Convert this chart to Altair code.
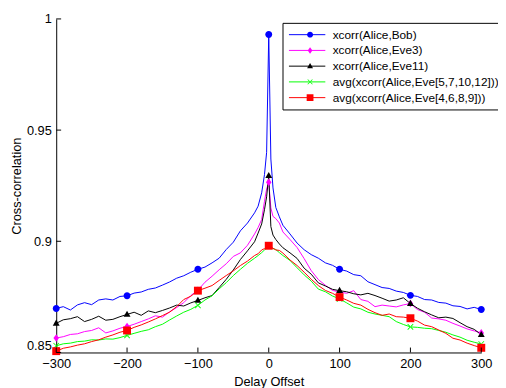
import altair as alt
import pandas as pd

series_names = [
    "xcorr(Alice,Bob)",
    "xcorr(Alice,Eve3)",
    "xcorr(Alice,Eve11)",
    "avg(xcorr(Alice,Eve[5,7,10,12]))",
    "avg(xcorr(Alice,Eve[4,6,8,9]))",
]
series_colors = ["#0000ff", "#ff00ff", "#000000", "#00ff00", "#ff0000"]

delay = [-300, -290, -280, -270, -260, -250, -240, -230, -220, -210, -200,
         -190, -180, -170, -160, -150, -140, -130, -120, -110, -100,
         -90, -80, -70, -60, -50, -40, -30, -20, -15, -10, -6, -3, 0,
         3, 6, 10, 15, 20, 30, 40, 50, 60, 70, 80, 90, 100,
         110, 120, 130, 140, 150, 160, 170, 180, 190, 200,
         210, 220, 230, 240, 250, 260, 270, 280, 290, 300]

bob = [0.8698, 0.8706, 0.8691, 0.8714, 0.8724, 0.8715, 0.8736, 0.8741, 0.8736, 0.8752, 0.8755,
       0.8767, 0.8772, 0.8784, 0.8790, 0.8803, 0.8817, 0.8834, 0.8845, 0.8861, 0.8874,
       0.8884, 0.8903, 0.8924, 0.8963, 0.8996, 0.9047, 0.9082, 0.9128, 0.9158, 0.9218, 0.9300, 0.9400, 0.9930,
       0.9370, 0.9240, 0.9152, 0.9110, 0.9072, 0.9033, 0.8992, 0.8962, 0.8940, 0.8924, 0.8903, 0.8892, 0.8874,
       0.8866, 0.8850, 0.8845, 0.8818, 0.8805, 0.8792, 0.8788, 0.8776, 0.8770, 0.8757,
       0.8752, 0.8738, 0.8736, 0.8725, 0.8722, 0.8710, 0.8707, 0.8696, 0.8703, 0.8693]

eve3 = [0.8565, 0.8571, 0.8581, 0.8584, 0.8594, 0.8599, 0.8611, 0.8588, 0.8597, 0.8609, 0.8617,
        0.8627, 0.8639, 0.8651, 0.8665, 0.8659, 0.8683, 0.8702, 0.8724, 0.8756, 0.8780,
        0.8816, 0.8843, 0.8872, 0.8899, 0.8932, 0.8948, 0.8982, 0.9033, 0.9062, 0.9098, 0.9180, 0.9235, 0.9265,
        0.9150, 0.9112, 0.9102, 0.9082, 0.9042, 0.9008, 0.8972, 0.8922, 0.8868, 0.8828, 0.8802, 0.8779, 0.8772,
        0.8766, 0.8778, 0.8738, 0.8730, 0.8706, 0.8713, 0.8709, 0.8705, 0.8714, 0.8720,
        0.8693, 0.8681, 0.8655, 0.8651, 0.8645, 0.8631, 0.8619, 0.8606, 0.8597, 0.8588]

eve11 = [0.8631, 0.8647, 0.8652, 0.8661, 0.8639, 0.8649, 0.8663, 0.8645, 0.8649, 0.8661, 0.8671,
         0.8681, 0.8667, 0.8687, 0.8679, 0.8689, 0.8700, 0.8713, 0.8709, 0.8723, 0.8734,
         0.8746, 0.8756, 0.8792, 0.8829, 0.8871, 0.8918, 0.8957, 0.8998, 0.9037, 0.9078, 0.9142, 0.9200, 0.9295,
         0.9066, 0.9028, 0.9008, 0.8988, 0.8971, 0.8948, 0.8923, 0.8879, 0.8852, 0.8813, 0.8799, 0.8784, 0.8778,
         0.8773, 0.8764, 0.8759, 0.8766, 0.8756, 0.8744, 0.8731, 0.8736, 0.8746, 0.8720,
         0.8699, 0.8683, 0.8669, 0.8656, 0.8659, 0.8653, 0.8634, 0.8616, 0.8604, 0.8580]

avg_a = [0.8530, 0.8539, 0.8542, 0.8549, 0.8551, 0.8557, 0.8556, 0.8561, 0.8560, 0.8567, 0.8577,
         0.8586, 0.8595, 0.8602, 0.8616, 0.8627, 0.8646, 0.8664, 0.8681, 0.8694, 0.8712,
         0.8736, 0.8755, 0.8786, 0.8814, 0.8846, 0.8874, 0.8901, 0.8924, 0.8936, 0.8949, 0.8961, 0.8969, 0.8978,
         0.8973, 0.8967, 0.8963, 0.8949, 0.8936, 0.8914, 0.8881, 0.8849, 0.8821, 0.8785, 0.8773, 0.8754, 0.8741,
         0.8723, 0.8704, 0.8696, 0.8681, 0.8673, 0.8667, 0.8661, 0.8639, 0.8626, 0.8615,
         0.8613, 0.8609, 0.8607, 0.8599, 0.8591, 0.8579, 0.8569, 0.8555, 0.8546, 0.8538]

avg_b = [0.8506, 0.8519, 0.8525, 0.8533, 0.8539, 0.8549, 0.8557, 0.8569, 0.8579, 0.8591, 0.8599,
         0.8613, 0.8624, 0.8637, 0.8651, 0.8666, 0.8681, 0.8706, 0.8738, 0.8753, 0.8778,
         0.8789, 0.8801, 0.8824, 0.8846, 0.8867, 0.8891, 0.8911, 0.8936, 0.8944, 0.8961, 0.8967, 0.8976, 0.8980,
         0.8974, 0.8969, 0.8961, 0.8959, 0.8947, 0.8916, 0.8891, 0.8861, 0.8829, 0.8801, 0.8779, 0.8766, 0.8749,
         0.8736, 0.8721, 0.8713, 0.8694, 0.8679, 0.8667, 0.8673, 0.8661, 0.8659, 0.8654,
         0.8641, 0.8623, 0.8616, 0.8601, 0.8586, 0.8564, 0.8556, 0.8542, 0.8531, 0.8521]

x_ticks = [-300, -200, -100, 0, 100, 200, 300]
y_ticks = [0.85, 0.9, 0.95, 1.0]

# filled marker shapes (unit box); the "x" is two thin filled bars
marker_paths = [
    "M-1,0A1,1,0,1,0,1,0A1,1,0,1,0,-1,0Z",
    "M0,-1.1L0.8,0L0,1.1L-0.8,0Z",
    "M0,-1.1L1,0.7L-1,0.7Z",
    "M-0.715,-0.885L0.885,0.715L0.715,0.885L-0.885,-0.715ZM-0.715,0.885L0.885,-0.715L0.715,-0.885L-0.885,0.715Z",
    "M-1.15,-1.15H1.15V1.15H-1.15Z",
]

# line-legend keys (trailing space keeps the two legends from being merged)
line_keys = [n + " " for n in series_names]

rows = []
for name, key, ys in zip(series_names, line_keys, [bob, eve3, eve11, avg_a, avg_b]):
    for xv, yv in zip(delay, ys):
        rows.append({"series": name, "series_line": key, "delay": xv, "corr": yv})
df = pd.DataFrame(rows)

FONT = "Liberation Sans"
LX, LY = 230, 4

xscale = alt.Scale(domain=[-300, 300], nice=False, zero=False)
yscale = alt.Scale(domain=[0.85, 1.0], nice=False, zero=False)

legend_markers = alt.Legend(
    title=None, orient="none", legendX=LX, legendY=LY,
    strokeColor="black", fillColor="white", padding=6,
    symbolSize=36, symbolOffset=16, labelOffset=17, clipHeight=12,
    labelFont=FONT, labelFontSize=12, labelColor="black", labelLimit=400,
    rowPadding=4, symbolStrokeWidth=0, symbolOpacity=1, zindex=1,
)
legend_lines = alt.Legend(
    title=None, orient="none", legendX=LX, legendY=LY,
    padding=6, symbolType="stroke", symbolSize=1369, symbolOffset=0,
    labelOffset=2, clipHeight=12, labelExpr="''",
    labelFont=FONT, labelFontSize=12,
    rowPadding=4, symbolStrokeWidth=1, symbolOpacity=1, zindex=2,
)

base = alt.Chart(df)

lines = base.mark_line(strokeWidth=1, clip=True).encode(
    x=alt.X("delay:Q", scale=xscale,
            axis=alt.Axis(values=x_ticks, title="Delay Offset", ticks=False, grid=False,
                          labelPadding=5, titlePadding=6, labelFlush=False)),
    y=alt.Y("corr:Q", scale=yscale,
            axis=alt.Axis(values=y_ticks, format="~g", title="Cross-correlation", ticks=False,
                          grid=False, labelPadding=5, titlePadding=3, labelFlush=False,
                          labelOffset={"condition": {"test": "datum.value < 0.86", "value": -7},
                                       "value": 0})),
    stroke=alt.Stroke("series_line:N", scale=alt.Scale(domain=line_keys, range=series_colors),
                      sort=line_keys, legend=legend_lines),
    detail="series_line:N",
)

points = base.transform_filter("datum.delay % 100 == 0").mark_point(
    filled=True, size=49, opacity=1
).encode(
    x=alt.X("delay:Q", scale=xscale),
    y=alt.Y("corr:Q", scale=yscale),
    color=alt.Color("series:N", scale=alt.Scale(domain=series_names, range=series_colors),
                    sort=series_names, legend=legend_markers),
    shape=alt.Shape("series:N", scale=alt.Scale(domain=series_names, range=marker_paths),
                    sort=series_names, legend=legend_markers),
)

ytick_df = pd.DataFrame({"v": y_ticks})
xtick_df = pd.DataFrame({"v": x_ticks})

yticks = alt.Chart(ytick_df).mark_rule(color="black", strokeWidth=1).encode(
    y=alt.Y("v:Q", scale=yscale), x=alt.value(0), x2=alt.value(5)
)
xticks = alt.Chart(xtick_df).mark_rule(color="black", strokeWidth=1).encode(
    x=alt.X("v:Q", scale=xscale), y=alt.value(339), y2=alt.value(334)
)

chart = alt.layer(lines, points, yticks, xticks).properties(
    width=432, height=339,
    autosize=alt.AutoSizeParams(type="none"),
    padding={"left": 49, "top": 8, "right": 17, "bottom": 33},
).configure_view(stroke=None).configure_axis(
    labelFont=FONT, labelFontSize=13, labelColor="black",
    titleFont=FONT, titleFontSize=13, titleColor="black", titleFontWeight="normal",
    domainColor="black", domainWidth=1,
)

chart.save("out.html", embed_options={"renderer": "svg", "actions": False})
